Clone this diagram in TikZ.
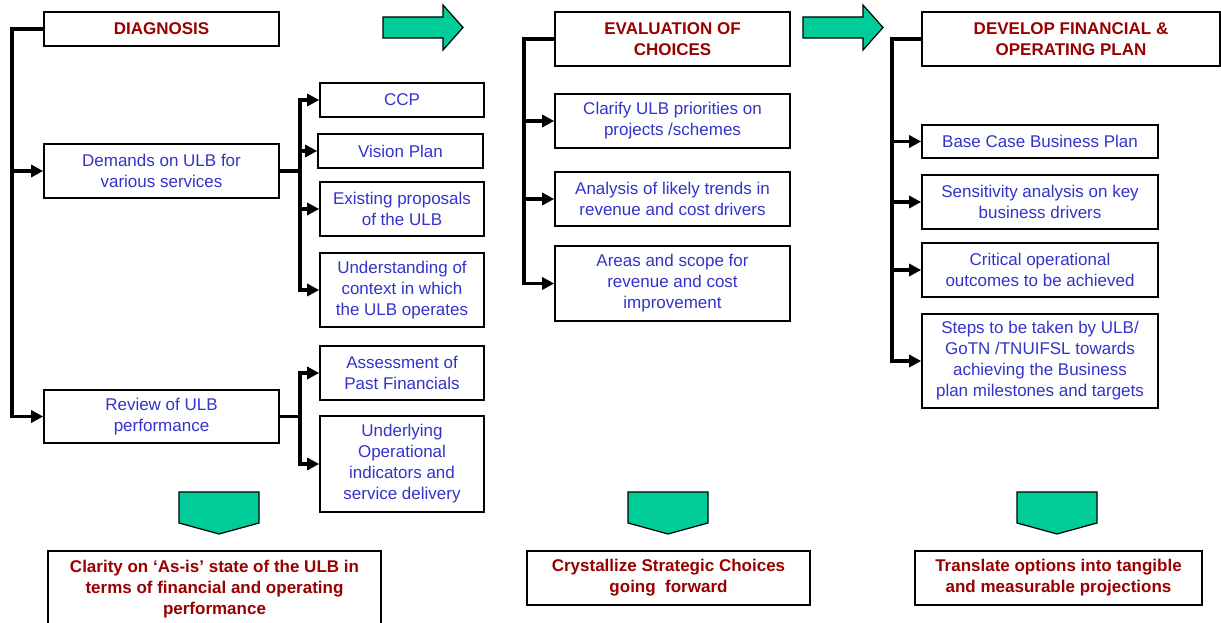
\documentclass[tikz,border=0pt]{standalone}
\usepackage{fontspec}
\setmainfont{Liberation Sans}
\usetikzlibrary{arrows.meta}
\definecolor{txtblue}{RGB}{51,51,204}
\definecolor{txtred}{RGB}{153,0,0}
\definecolor{arrgreen}{RGB}{0,204,153}
\begin{document}
\begin{tikzpicture}[x=1pt,y=-1pt,
  box/.style={draw=black,line width=1.6pt,fill=white,inner sep=0pt,align=center,
    font=\fontsize{17}{21}\selectfont,text=txtblue},
  title/.style={box,font=\fontsize{17}{21}\selectfont\bfseries,text=txtred},
  trunk/.style={line width=3.3pt,line cap=rect},
  arr/.style={line width=3.3pt,-{Triangle[length=12pt,width=12pt]}},
  garrow/.style={draw=black,line width=1.2pt,fill=arrgreen,line join=miter}
]
\useasboundingbox (0,0) rectangle (1221,623);
\fill[white] (0,0) rectangle (1221,623);

% ---- column 1
\node[title,minimum width=235,minimum height=34] (diag) at (161.5,29) {DIAGNOSIS};
\node[box,minimum width=235,minimum height=54] (dem) at (161.5,171) {Demands on ULB for\\various services};
\node[box,minimum width=235,minimum height=53] (rev) at (161.5,416.5) {Review of ULB\\performance};
\node[box,minimum width=164,minimum height=34] (ccp) at (402,100) {CCP};
\node[box,minimum width=165,minimum height=34] (vis) at (400.5,151) {Vision Plan};
\node[box,minimum width=164,minimum height=54] (exi) at (402,209) {Existing proposals\\of the ULB};
\node[box,minimum width=164,minimum height=74] (und) at (402,290) {Understanding of\\context in which\\the ULB operates};
\node[box,minimum width=164,minimum height=54] (ass) at (402,373) {Assessment of\\Past Financials};
\node[box,minimum width=164,minimum height=96] (unl) at (402,464) {Underlying\\Operational\\indicators and\\service delivery};

\coordinate (t1) at (12,29);
\draw[trunk] (diag.west) -- (t1) -- (t1 |- rev.west);
\draw[arr] (t1 |- dem.west) -- (dem.west);
\draw[arr] (t1 |- rev.west) -- (rev.west);

\coordinate (b1) at (300,171);
\draw[trunk] (dem.east) -- (b1);
\draw[trunk] (b1 |- ccp.west) -- (b1 |- und.west);
\draw[arr] (b1 |- ccp.west) -- (ccp.west);
\draw[arr] (b1 |- vis.west) -- (vis.west);
\draw[arr] (b1 |- exi.west) -- (exi.west);
\draw[arr] (b1 |- und.west) -- (und.west);

\coordinate (b2) at (300,416.5);
\draw[trunk] (rev.east) -- (b2);
\draw[trunk] (b2 |- ass.west) -- (b2 |- unl.west);
\draw[arr] (b2 |- ass.west) -- (ass.west);
\draw[arr] (b2 |- unl.west) -- (unl.west);

% ---- column 2
\node[title,minimum width=235,minimum height=54] (eval) at (672.5,39) {EVALUATION OF\\CHOICES};
\node[box,minimum width=235,minimum height=54] (cla) at (672.5,121) {Clarify ULB priorities on\\projects /schemes};
\node[box,minimum width=235,minimum height=54] (ana) at (672.5,199) {Analysis of likely trends in\\revenue and cost drivers};
\node[box,minimum width=235,minimum height=75] (are) at (672.5,283.5) {Areas and scope for\\revenue and cost\\improvement};

\coordinate (t2) at (524,39);
\draw[trunk] (eval.west) -- (t2) -- (t2 |- are.west);
\draw[arr] (t2 |- cla.west) -- (cla.west);
\draw[arr] (t2 |- ana.west) -- (ana.west);
\draw[arr] (t2 |- are.west) -- (are.west);

% ---- column 3
\node[title,minimum width=298,minimum height=54] (dev) at (1071,39) {DEVELOP FINANCIAL \&\\OPERATING PLAN};
\node[box,minimum width=236,minimum height=33] (base) at (1040,141.5) {Base Case Business Plan};
\node[box,minimum width=236,minimum height=54] (sens) at (1040,202) {Sensitivity analysis on key\\business drivers};
\node[box,minimum width=236,minimum height=54] (crit) at (1040,270) {Critical operational\\outcomes to be achieved};
\node[box,minimum width=236,minimum height=94] (steps) at (1040,361) {Steps to be taken by ULB/\\GoTN /TNUIFSL towards\\achieving the Business\\plan milestones and targets};

\coordinate (t3) at (892,39);
\draw[trunk] (dev.west) -- (t3) -- (t3 |- steps.west);
\draw[arr] (t3 |- base.west) -- (base.west);
\draw[arr] (t3 |- sens.west) -- (sens.west);
\draw[arr] (t3 |- crit.west) -- (crit.west);
\draw[arr] (t3 |- steps.west) -- (steps.west);

% ---- green arrows (right)
\foreach \x in {383,803}{
  \draw[garrow] (\x,17) -- (\x+60,17) -- (\x+60,5) -- (\x+80,27.5) -- (\x+60,50) -- (\x+60,38) -- (\x,38) -- cycle;
}
% ---- green arrows (down)
\foreach \x in {179,628,1017}{
  \draw[garrow] (\x,492) -- (\x+80,492) -- (\x+80,523) -- (\x+40,534) -- (\x,523) -- cycle;
}

% ---- outcomes
\node[title,minimum width=333,minimum height=76] (clar) at (214.5,589) {Clarity on ‘As-is’ state of the ULB in\\terms of financial and operating\\performance};
\node[title,minimum width=283,minimum height=54] (cry) at (668.5,578) {Crystallize Strategic Choices\\going\ \ forward};
\node[title,minimum width=287,minimum height=54] (tra) at (1058.5,578) {Translate options into tangible\\and measurable projections};
\end{tikzpicture}
\end{document}
